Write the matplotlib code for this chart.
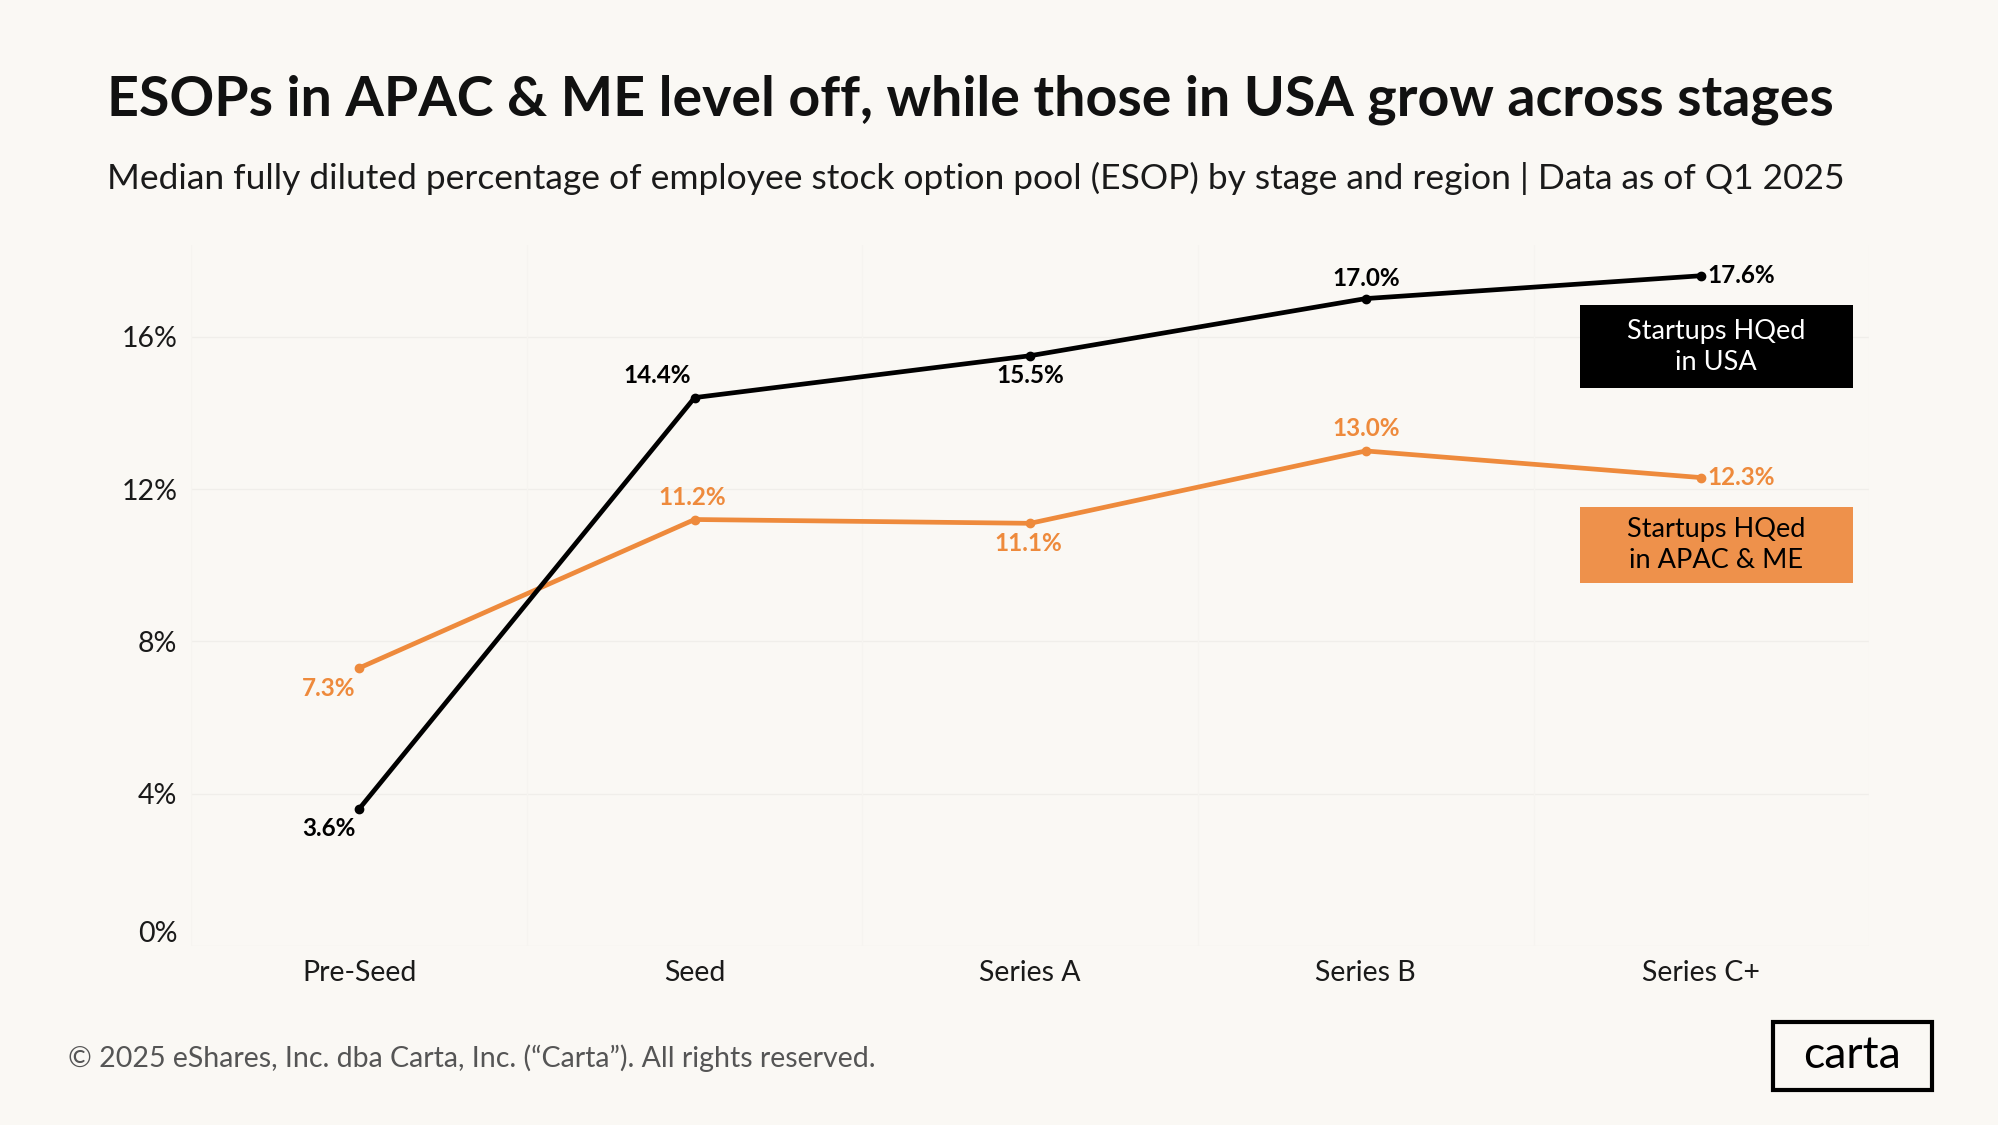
import matplotlib.pyplot as plt
import matplotlib.transforms as mtransforms
from matplotlib.patches import Rectangle

# Data
stages = ['Pre-Seed', 'Seed', 'Series A', 'Series B', 'Series C+']
usa = [3.6, 14.4, 15.5, 17.0, 17.6]
apac = [7.3, 11.2, 11.1, 13.0, 12.3]
y_ticks = [0, 4, 8, 12, 16]

bg = '#FAF8F4'
orange = '#EE8A3C'
orange_box = '#EE914B'
grid_col = '#F0EEEA'

plt.rcParams['font.family'] = ['Lato', 'DejaVu Sans']

fig = plt.figure(figsize=(19.99, 11.25), dpi=100, facecolor=bg)
ax = fig.add_axes([0.0957, 0.159, 0.8393, 0.623], facecolor=bg)

x = list(range(len(stages)))
ax.plot(x, apac, color=orange, lw=3.4, marker='o', ms=6, zorder=3)
ax.plot(x, usa, color='black', lw=3.4, marker='o', ms=6, zorder=4)

ax.set_xlim(-0.5, 4.5)
ax.set_ylim(0, 18.4)
ax.set_yticks(y_ticks)
ax.set_yticklabels([f'{v}%' for v in y_ticks])
ax.set_xticks(x)
ax.set_xticklabels(stages)
ax.tick_params(axis='both', length=0, labelsize=20.5, colors='#1a1a1a')
ax.tick_params(axis='y', pad=10)
ax.tick_params(axis='x', pad=10)
for s in ax.spines.values():
    s.set_visible(False)
for v in y_ticks:
    ax.axhline(v, color=grid_col, lw=1, zorder=0)
for b in [-0.5, 0.5, 1.5, 2.5, 3.5, 4.5]:
    ax.axvline(b, color='#F6F4F0', lw=1, zorder=0)

# the 0% label sits a bit above its gridline
lab0 = ax.get_yticklabels()[0]
lab0.set_transform(lab0.get_transform() + mtransforms.ScaledTranslation(0, 0.15, fig.dpi_scale_trans))

# label offsets in pixels (dx, dy, ha)
usa_off = [(-30, -20, 'center'), (-37, 22, 'center'), (0, -20, 'center'), (0, 20, 'center'), (6, 0, 'left')]
apac_off = [(-30, -20, 'center'), (-2, 22, 'center'), (-2, -20, 'center'), (0, 22, 'center'), (6, 0, 'left')]
for i in x:
    dx, dy, ha = usa_off[i]
    ax.annotate(f'{usa[i]:.1f}%', (i, usa[i]), xytext=(dx, dy), textcoords='offset pixels',
                ha=ha, va='center', fontsize=17.5, fontweight='bold', color='black')
    dx, dy, ha = apac_off[i]
    ax.annotate(f'{apac[i]:.1f}%', (i, apac[i]), xytext=(dx, dy), textcoords='offset pixels',
                ha=ha, va='center', fontsize=17.5, fontweight='bold', color=orange)

# legend boxes
fig.patches.append(Rectangle((1580 / 1999, 1 - 388 / 1125), 273 / 1999, 83 / 1125,
                             transform=fig.transFigure, facecolor='black', edgecolor='none'))
fig.text(1716 / 1999, 1 - 347 / 1125, 'Startups HQed\nin USA', ha='center', va='center',
         fontsize=19.5, color='white', linespacing=1.3)
fig.patches.append(Rectangle((1580 / 1999, 1 - 583 / 1125), 273 / 1999, 76 / 1125,
                             transform=fig.transFigure, facecolor=orange_box, edgecolor='none'))
fig.text(1716 / 1999, 1 - 545 / 1125, 'Startups HQed\nin APAC & ME', ha='center', va='center',
         fontsize=19.5, color='black', linespacing=1.3)

# titles
fig.text(107 / 1999, 1 - 100 / 1125, 'ESOPs in APAC & ME level off, while those in USA grow across stages',
         ha='left', va='center', fontsize=40, fontweight='bold', color='#111111')
fig.text(107 / 1999, 1 - 178 / 1125,
         'Median fully diluted percentage of employee stock option pool (ESOP) by stage and region | Data as of Q1 2025',
         ha='left', va='center', fontsize=25.5, color='#1a1a1a')

# footer
fig.text(68 / 1999, 1 - 1058 / 1125, '© 2025 eShares, Inc. dba Carta, Inc. (“Carta”). All rights reserved.',
         ha='left', va='center', fontsize=20.5, color='#555555')
fig.patches.append(Rectangle((1773 / 1999, 1 - 1090 / 1125), 159 / 1999, 68 / 1125,
                             transform=fig.transFigure, facecolor='none', edgecolor='black', lw=3))
fig.text(1852 / 1999, 1 - 1055 / 1125, 'carta', ha='center', va='center', fontsize=32, color='black')

fig.savefig('out.png', dpi=100, facecolor=bg)
